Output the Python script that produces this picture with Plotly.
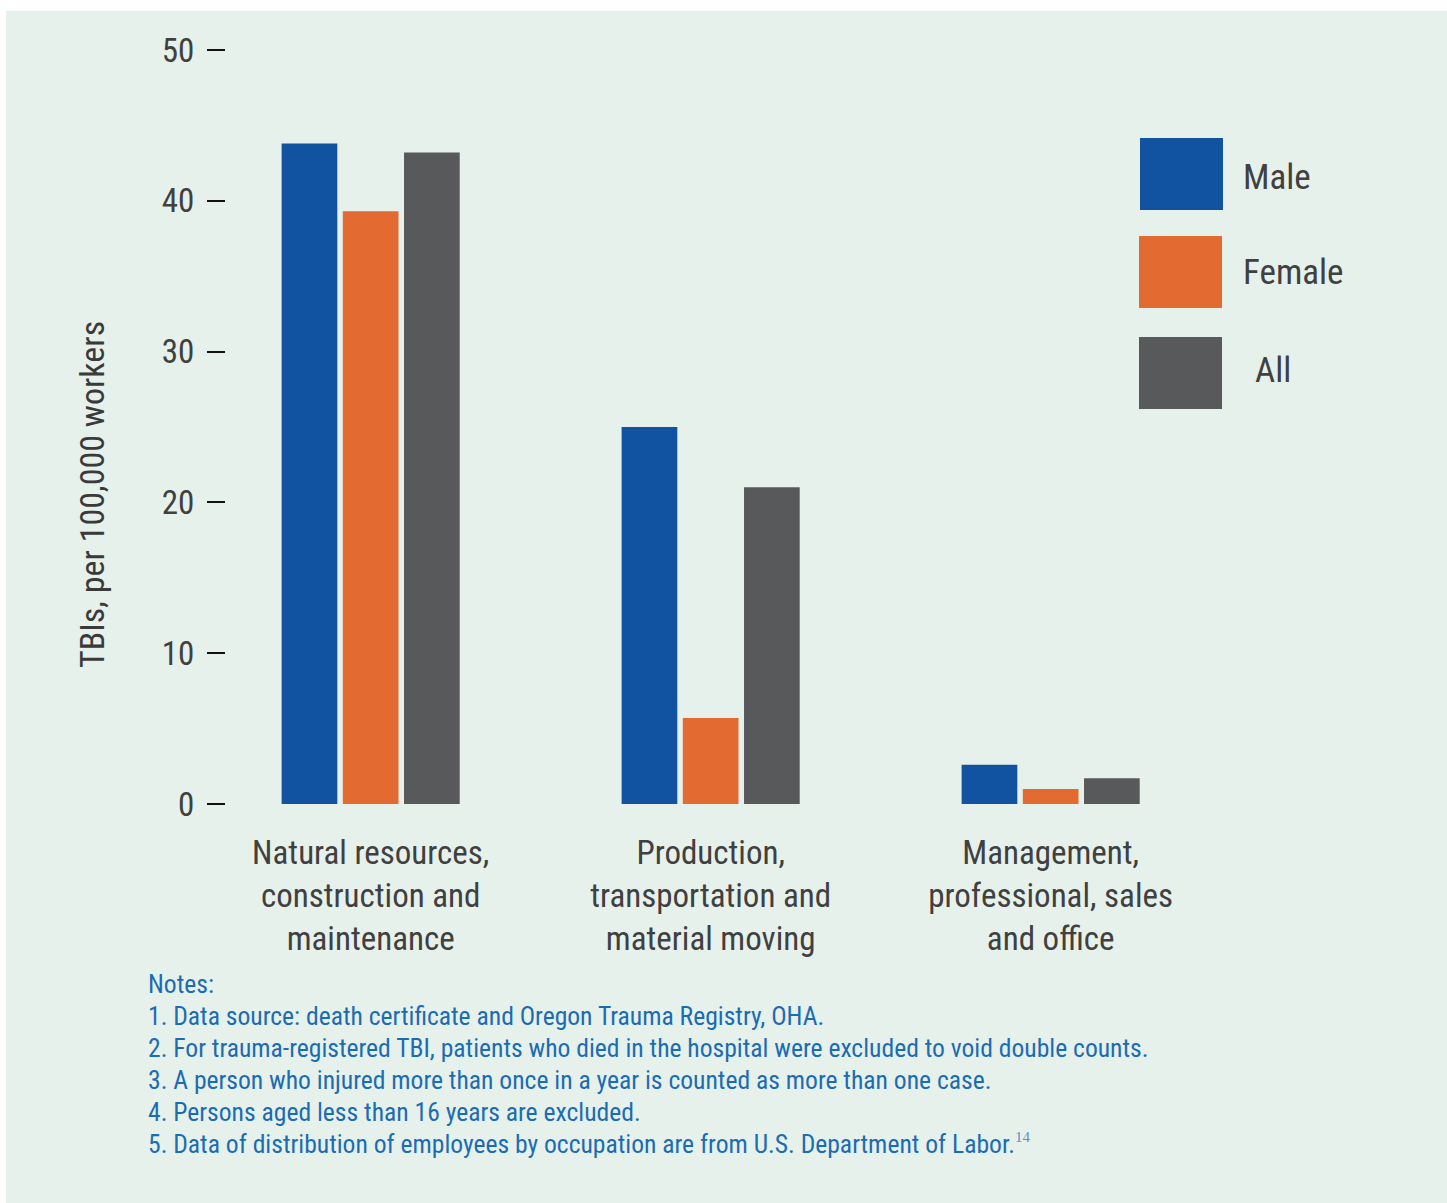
import plotly.graph_objects as go

# ---------------- data ----------------
categories = [
    "Natural resources,<br>construction and<br>maintenance",
    "Production,<br>transportation and<br>material moving",
    "Management,<br>professional, sales<br>and office",
]
series_names = ["Male", "Female", "All"]
male = [43.8, 25.0, 2.6]
female = [39.3, 5.7, 1.0]
all_workers = [43.2, 21.0, 1.7]
y_ticks = [0, 10, 20, 30, 40, 50]
y_title = "TBIs, per 100,000 workers"
notes = [
    "Notes:",
    "1. Data source: death certificate and Oregon Trauma Registry, OHA.",
    "2. For trauma-registered TBI, patients who died in the hospital were excluded to void double counts.",
    "3. A person who injured more than once in a year is counted as more than one case.",
    "4. Persons aged less than 16 years are excluded.",
    "5. Data of distribution of employees by occupation are from U.S. Department of Labor.",
]
note_ref = "14"

# ---------------- styles ----------------
W, H = 1447, 1203
colors = ["#1253a1", "#e36a30", "#58595b"]
bg = "#e7f1ec"
text_col = "#404040"
note_col = "#1a6cb3"
FONT = "Liberation Sans Narrow, Roboto Condensed, Arial Narrow, sans-serif"

L, R, T, B = 226, 1226, 50, 804  # plot area in pixels


def px(x):
    return (x - L) / (R - L)


def py(y):
    return (B - y) / (B - T)


fig = go.Figure()
for name, vals, c in zip(series_names, [male, female, all_workers], colors):
    fig.add_trace(go.Bar(x=categories, y=vals, name=name, marker=dict(color=c, line=dict(width=0))))

shapes = [
    dict(type="rect", xref="paper", yref="paper", x0=px(6), x1=px(1447), y0=py(1210), y1=py(11),
         fillcolor=bg, line=dict(width=0), layer="below"),
]
annotations = []
legend_boxes = [(1140, 1223, 138, 210), (1139, 1222, 236, 308), (1139, 1222, 337, 409)]
legend_text_pos = [(1241, 178), (1241, 272), (1253, 370)]
for (x0, x1, y0, y1), c, name, (tx, ty) in zip(legend_boxes, colors, series_names, legend_text_pos):
    shapes.append(dict(type="rect", xref="paper", yref="paper", x0=px(x0), x1=px(x1), y0=py(y1), y1=py(y0),
                       fillcolor=c, line=dict(width=0)))
    annotations.append(dict(xref="paper", yref="paper", x=px(tx), y=py(ty), text=name,
                            showarrow=False, xanchor="left", yanchor="middle",
                            font=dict(family=FONT, size=35, color=text_col)))

# y-axis title
annotations.append(dict(xref="paper", yref="paper", x=px(92), y=py(495), text=y_title, textangle=-90,
                        showarrow=False, xanchor="center", yanchor="middle",
                        font=dict(family=FONT, size=34, color="#3a3a3a")))

# notes, one line each
for i, line in enumerate(notes):
    txt = line
    if i == len(notes) - 1:
        txt += (f"<sup><span style='font-family:Liberation Serif, serif;font-size:15px;"
                f"color:#5b8ec4'>{note_ref}</span></sup>")
    annotations.append(dict(xref="paper", yref="paper", x=px(146), y=py(984 + 32 * i), text=txt,
                            align="left", showarrow=False, xanchor="left", yanchor="middle",
                            font=dict(family=FONT, size=25.6, color=note_col)))

fig.update_layout(
    width=W, height=H,
    margin=dict(l=L, r=W - R, t=T, b=H - B, pad=0),
    paper_bgcolor="white", plot_bgcolor="rgba(0,0,0,0)",
    barmode="group", bargap=0.46, bargroupgap=0.09,
    showlegend=False,
    shapes=shapes, annotations=annotations,
    font=dict(family=FONT, color=text_col),
    xaxis=dict(type="category", range=[-0.4255, 2.5157], showline=False, showgrid=False, zeroline=False,
               ticks="", tickfont=dict(size=33, color=text_col), ticklabelstandoff=26),
    yaxis=dict(range=[0, 50], tickvals=y_ticks, showline=False, showgrid=False, zeroline=False,
               ticks="outside", ticklen=18, tickwidth=2, tickcolor="#111111",
               tickfont=dict(size=33, color=text_col), ticklabelstandoff=6),
)

fig.write_html("out.html")
